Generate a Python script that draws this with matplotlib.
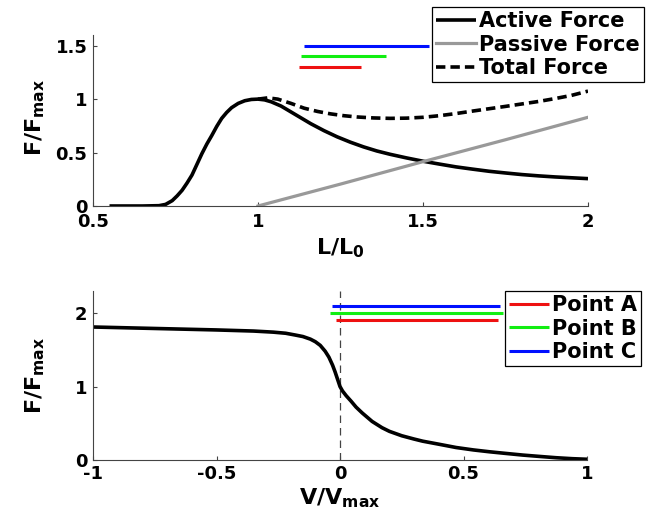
import matplotlib
matplotlib.use("Agg")
import matplotlib.pyplot as plt

# force-length data
len_x = [0.55, 0.65, 0.70, 0.72, 0.74, 0.755, 0.77, 0.785, 0.80, 0.815, 0.83, 0.845,
         0.86, 0.875, 0.89, 0.905, 0.92, 0.94, 0.96, 0.98, 1.0, 1.02, 1.04, 1.07,
         1.10, 1.13, 1.16, 1.20, 1.24, 1.28, 1.32, 1.36, 1.40, 1.45, 1.50, 1.55,
         1.60, 1.65, 1.70, 1.75, 1.80, 1.85, 1.90, 1.95, 2.0]
active = [0.0, 0.0, 0.003, 0.015, 0.05, 0.095, 0.147, 0.215, 0.29, 0.39, 0.49, 0.58,
          0.66, 0.745, 0.82, 0.875, 0.92, 0.96, 0.985, 0.997, 1.0, 0.993, 0.975, 0.935,
          0.88, 0.825, 0.77, 0.705, 0.647, 0.597, 0.553, 0.515, 0.484, 0.45, 0.419,
          0.392, 0.366, 0.345, 0.325, 0.309, 0.294, 0.282, 0.272, 0.264, 0.256]
pass_x = [1.0, 1.25, 1.5, 1.75, 2.0]
passive = [0.0, 0.205, 0.415, 0.62, 0.83]
tot_x = [1.0, 1.03, 1.06, 1.10, 1.14, 1.18, 1.22, 1.26, 1.30, 1.35, 1.40, 1.45, 1.50,
         1.55, 1.60, 1.65, 1.70, 1.75, 1.80, 1.85, 1.90, 1.95, 2.0]
total = [1.0, 1.012, 1.0, 0.96, 0.915, 0.885, 0.862, 0.845, 0.833, 0.824, 0.82, 0.822,
         0.83, 0.845, 0.865, 0.888, 0.91, 0.932, 0.955, 0.978, 1.005, 1.035, 1.075]

# force-velocity data
vel_x = [-1.0, -0.75, -0.5, -0.35, -0.27, -0.22, -0.18, -0.15, -0.12, -0.10, -0.08,
         -0.06, -0.045, -0.03, -0.02, -0.01, 0.0, 0.01, 0.025, 0.045, 0.065, 0.09,
         0.13, 0.17, 0.2, 0.25, 0.30, 0.335, 0.40, 0.47, 0.54, 0.605, 0.67, 0.74,
         0.81, 0.875, 0.94, 1.0]
vel_f = [1.81, 1.79, 1.77, 1.755, 1.74, 1.725, 1.70, 1.68, 1.645, 1.61, 1.56, 1.48,
         1.40, 1.29, 1.20, 1.10, 1.0, 0.94, 0.875, 0.8, 0.72, 0.64, 0.525, 0.44, 0.39,
         0.33, 0.285, 0.256, 0.215, 0.17, 0.137, 0.112, 0.09, 0.067, 0.048, 0.031,
         0.018, 0.01]

# operating points A, B, C
point_names = ["Point A", "Point B", "Point C"]
point_colors = ["#ee1111", "#11ee11", "#0010ff"]
len_start = [1.123, 1.129, 1.14]
len_end = [1.312, 1.388, 1.518]
len_level = [1.3, 1.4, 1.5]
vel_start = [-0.016, -0.04, -0.034]
vel_end = [0.641, 0.661, 0.648]
vel_level = [1.9, 2.0, 2.1]

plt.rcParams['font.family'] = ['DejaVu Sans']
plt.rcParams['font.weight'] = 'bold'
plt.rcParams['mathtext.default'] = 'bf'

fig = plt.figure(figsize=(6.54, 5.15), dpi=100)
ax1 = fig.add_axes([93 / 654, 1 - 206 / 515, 495 / 654, 171 / 515])
ax2 = fig.add_axes([93 / 654, 1 - 460 / 515, 494 / 654, 169 / 515])

spine_col = '#444444'
for ax in (ax1, ax2):
    ax.spines['top'].set_visible(False)
    ax.spines['right'].set_visible(False)
    for s in ('left', 'bottom'):
        ax.spines[s].set_color(spine_col)
        ax.spines[s].set_linewidth(0.8)
    ax.tick_params(direction='in', length=3, width=0.8, color=spine_col,
                   labelsize=13)
    ax.tick_params(axis='x', pad=5)
    ax.tick_params(axis='y', pad=4)
ax2.tick_params(axis='x', pad=3.5)

curve_kw = dict(solid_joinstyle='round', solid_capstyle='butt')

# top panel
h_act, = ax1.plot(len_x, active, color='black', lw=2.6, label='Active Force', **curve_kw)
h_pas, = ax1.plot(pass_x, passive, color='#999999', lw=2.3, label='Passive Force')
h_tot, = ax1.plot(tot_x, total, color='black', lw=2.6, ls='--', dashes=(2.6, 1.4),
                  label='Total Force')
for c, s, e, lv in zip(point_colors, len_start, len_end, len_level):
    ax1.plot([s, e], [lv, lv], color=c, lw=2.2, solid_capstyle='butt')
ax1.set_xlim(0.5, 2)
ax1.set_ylim(0, 1.6)
ax1.set_xticks([0.5, 1, 1.5, 2])
ax1.set_xticklabels(['0.5', '1', '1.5', '2'])
ax1.set_yticks([0, 0.5, 1, 1.5])
ax1.set_yticklabels(['0', '0.5', '1', '1.5'])
ax1.set_xlabel('L/L$_{0}$', fontsize=16, fontweight='bold')
ax1.set_ylabel('F/F$_{max}$', fontsize=16, fontweight='bold')
ax1.xaxis.set_label_coords(0.5, -0.175)
ax1.yaxis.set_label_coords(-0.093, 0.52)
leg1 = ax1.legend(handles=[h_act, h_pas, h_tot], loc='upper left',
                  bbox_to_anchor=(432 / 654, 1 - 7 / 515),
                  bbox_transform=fig.transFigure,
                  prop={'weight': 'bold', 'size': 15}, handlelength=1.9,
                  handletextpad=0.15, borderpad=0.2, labelspacing=0.17,
                  borderaxespad=0, fancybox=False, framealpha=1,
                  edgecolor='black')
leg1.get_frame().set_linewidth(0.9)

# bottom panel
ax2.axvline(0, color='#444444', lw=0.9, ls='--', dashes=(6, 4))
ax2.plot(vel_x, vel_f, color='black', lw=2.6, **curve_kw)
vel_handles = []
for name, c, s, e, lv in zip(point_names, point_colors, vel_start, vel_end, vel_level):
    h, = ax2.plot([s, e], [lv, lv], color=c, lw=2.2, solid_capstyle='butt', label=name)
    vel_handles.append(h)
ax2.set_xlim(-1, 1)
ax2.set_ylim(0, 2.3)
ax2.set_xticks([-1, -0.5, 0, 0.5, 1])
ax2.set_xticklabels(['-1', '-0.5', '0', '0.5', '1'])
ax2.set_yticks([0, 1, 2])
ax2.set_yticklabels(['0', '1', '2'])
ax2.set_xlabel('V/V$_{max}$', fontsize=16, fontweight='bold')
ax2.set_ylabel('F/F$_{max}$', fontsize=16, fontweight='bold')
ax2.xaxis.set_label_coords(0.5, -0.155)
ax2.yaxis.set_label_coords(-0.093, 0.5)
leg2 = ax2.legend(handles=vel_handles, loc='upper left',
                  bbox_to_anchor=(505 / 654, 1 - 291 / 515),
                  bbox_transform=fig.transFigure,
                  prop={'weight': 'bold', 'size': 15}, handlelength=1.9,
                  handletextpad=0.15, borderpad=0.2, labelspacing=0.17,
                  borderaxespad=0, fancybox=False, framealpha=1,
                  edgecolor='black')
leg2.get_frame().set_linewidth(0.9)

fig.savefig('out.png', dpi=100)
